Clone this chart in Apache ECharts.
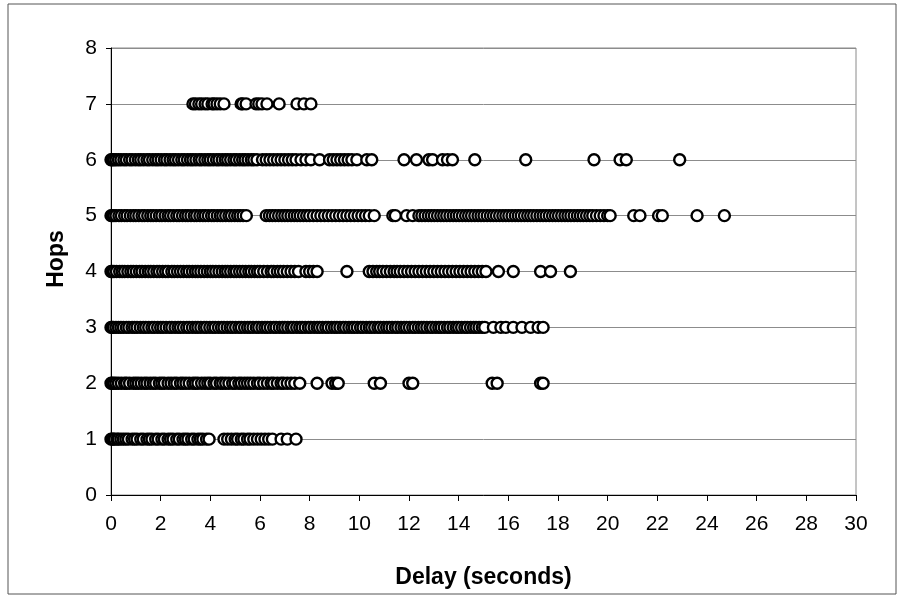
<!DOCTYPE html>
<html>
<head>
<meta charset="utf-8">
<script src="https://cdn.jsdelivr.net/npm/echarts@6/dist/echarts.min.js"></script>
<style>html,body{margin:0;padding:0;background:#fff;}#c{width:903px;height:597px;}</style>
</head>
<body>
<div id="c"></div>
<script>
var xTicks = [0,2,4,6,8,10,12,14,16,18,20,22,24,26,28,30];
var yTicks = [0,1,2,3,4,5,6,7,8];

var hops1 = [0,0.05,0.1,0.15,0.25,0.3,0.4,0.5,0.6,0.7,0.85,0.95,1.05,1.2,1.3,1.45,1.55,1.65,1.8,1.9,2.05,2.15,2.3,2.4,2.5,2.65,2.75,2.9,3.0,3.1,3.25,3.35,3.5,3.6,3.7,3.85,3.95,
  4.55,4.7,4.85,5.0,5.1,5.25,5.35,5.5,5.6,5.75,5.9,6.05,6.2,6.35,6.5,6.85,7.1,7.45];

var hops2 = [0,0.05,0.12,0.2,0.3,0.42,0.55,0.63,0.75,0.9,1.0,1.1,1.22,1.35,1.45,1.58,1.7,1.8,1.95,2.05,2.15,2.3,2.42,2.55,2.65,2.8,2.9,3.02,3.15,3.3,3.4,3.5,3.65,3.78,3.9,4.0,4.15,4.25,4.4,4.5,4.62,4.75,4.9,5.0,5.15,5.25,5.38,5.5,5.62,5.75,5.9,6.0,6.15,6.3,6.45,6.55,6.7,6.85,6.95,7.1,7.25,7.4,7.6,
  8.3,8.9,9.05,9.15,10.6,10.85,12.0,12.15,15.35,15.55,17.3,17.4];

var hops3 = [0,0.05,0.1,0.2,0.3,0.4,0.5,0.62,0.72,0.85,0.95,1.05,1.18,1.3,1.4,1.52,1.65,1.75,1.88,2.0,2.1,2.22,2.35,2.45,2.58,2.7,2.8,2.92,3.05,3.15,3.28,3.4,3.5,3.62,3.75,3.85,3.98,4.1,4.2,4.33,4.45,4.55,4.68,4.8,4.9,5.02,5.15,5.25,5.38,5.5,5.6,5.72,5.85,5.95,6.08,6.2,6.3,6.42,6.55,6.65,6.78,6.9,7.0,7.12,7.25,7.35,7.48,7.6,7.7,7.82,7.95,8.05,8.18,8.3,8.4,8.52,8.65,8.75,8.88,9.0,9.1,9.22,9.35,9.45,9.58,9.7,9.8,9.92,10.05,10.15,10.28,10.4,10.5,10.62,10.75,10.85,10.98,11.1,11.2,11.32,11.45,11.55,11.68,11.8,11.9,12.02,12.15,12.25,12.38,12.5,12.6,12.72,12.85,12.95,13.08,13.2,13.3,13.42,13.55,13.65,13.78,13.9,14.0,14.12,14.25,14.35,14.48,14.6,14.7,14.82,14.95,15.05,
  15.4,15.7,15.9,16.2,16.55,16.9,17.2,17.4];

var hops4 = [0,0.05,0.12,0.22,0.35,0.45,0.55,0.68,0.8,0.9,1.02,1.15,1.25,1.38,1.5,1.6,1.72,1.85,1.95,2.08,2.2,2.3,2.45,2.55,2.68,2.8,2.92,3.05,3.15,3.28,3.4,3.5,3.62,3.75,3.88,4.0,4.1,4.22,4.35,4.48,4.6,4.7,4.82,4.95,5.05,5.18,5.3,5.42,5.55,5.65,5.78,5.9,6.0,6.15,6.3,6.45,6.55,6.7,6.82,6.95,7.1,7.25,7.4,7.55,
  7.85,8.0,8.15,8.3,9.5,
  10.4,10.55,10.7,10.82,10.95,11.1,11.25,11.4,11.52,11.65,11.8,11.95,12.1,12.25,12.4,12.55,12.7,12.85,13.0,13.15,13.3,13.45,13.6,13.75,13.9,14.05,14.2,14.35,14.5,14.65,14.8,14.95,15.1,
  15.6,16.2,17.3,17.7,18.5];

var hops5 = [0,0.05,0.12,0.2,0.32,0.42,0.55,0.65,0.78,0.9,1.0,1.12,1.25,1.35,1.48,1.6,1.7,1.82,1.95,2.05,2.18,2.3,2.4,2.52,2.65,2.75,2.88,3.0,3.1,3.22,3.35,3.45,3.58,3.7,3.8,3.92,4.05,4.15,4.28,4.4,4.5,4.62,4.75,4.85,4.98,5.1,5.2,5.32,5.45,
  6.25,6.38,6.5,6.62,6.75,6.88,7.0,7.12,7.25,7.38,7.5,7.62,7.75,7.88,8.0,8.15,8.3,8.45,8.6,8.75,8.9,9.05,9.2,9.35,9.5,9.65,9.8,9.95,10.1,10.25,10.4,10.6,11.35,11.45,11.9,12.15,
  12.4,12.52,12.65,12.78,12.9,13.02,13.15,13.28,13.4,13.52,13.65,13.78,13.9,14.02,14.15,14.28,14.4,14.52,14.65,14.78,14.9,15.02,15.15,15.28,15.4,15.52,15.65,15.78,15.9,16.02,16.15,16.28,16.4,16.52,16.65,16.78,16.9,17.02,17.15,17.28,17.4,17.52,17.65,17.78,17.9,18.02,18.15,18.28,18.4,18.52,18.65,18.78,18.9,19.02,19.15,19.28,19.4,19.55,19.7,19.85,20.0,20.1,
  21.05,21.3,22.05,22.2,23.6,24.7];

var hops6 = [0,0.05,0.12,0.2,0.3,0.4,0.52,0.62,0.75,0.85,0.98,1.1,1.2,1.32,1.45,1.55,1.68,1.8,1.9,2.02,2.15,2.25,2.38,2.5,2.6,2.72,2.85,2.95,3.08,3.2,3.3,3.42,3.55,3.65,3.78,3.9,4.0,4.12,4.25,4.35,4.48,4.6,4.7,4.82,4.95,5.05,5.18,5.3,5.4,5.52,5.65,5.75,5.88,
  6.1,6.25,6.4,6.55,6.7,6.85,7.0,7.15,7.3,7.45,7.65,7.85,8.05,8.4,8.8,8.95,9.1,9.25,9.4,9.55,9.7,9.9,10.3,10.5,
  11.8,12.3,12.8,12.95,13.35,13.55,13.75,14.65,16.7,19.45,20.5,20.75,22.9];

var hops7 = [3.3,3.4,3.54,3.65,3.79,3.9,4.07,4.15,4.27,4.4,4.55,5.24,5.3,5.44,5.84,5.95,6.08,6.28,6.77,7.49,7.77,8.05];

function pts(arr, h){ return arr.map(function(v){ return [v, h]; }); }

var rows = [hops1, hops2, hops3, hops4, hops5, hops6, hops7];
var data = [];
rows.forEach(function(r, i){ data = data.concat(pts(r, i + 1)); });

var chart = echarts.init(document.getElementById('c'));
chart.setOption({
  animation: false,
  backgroundColor: '#fff',
  grid: { left: 111, right: 47, top: 48, bottom: 102, show: true, borderColor: '#8a8a8a', borderWidth: 1 },
  xAxis: {
    type: 'value', min: xTicks[0], max: xTicks[xTicks.length - 1], interval: 2,
    name: 'Delay (seconds)', nameLocation: 'middle', nameGap: 71,
    nameTextStyle: { fontFamily: 'Liberation Sans', fontWeight: 'bold', fontSize: 23, color: '#000' },
    axisLine: { show: true, lineStyle: { color: '#000', width: 1 } },
    axisTick: { show: true, length: 6, lineStyle: { color: '#000' } },
    axisLabel: { fontFamily: 'Liberation Sans', fontSize: 21, color: '#000', margin: 19 },
    splitLine: { show: false }
  },
  yAxis: {
    type: 'value', min: yTicks[0], max: yTicks[yTicks.length - 1], interval: 1,
    axisLine: { show: true, lineStyle: { color: '#000', width: 1 } },
    axisTick: { show: true, length: 5, lineStyle: { color: '#000' } },
    axisLabel: { fontFamily: 'Liberation Sans', fontSize: 21, color: '#000', margin: 14 },
    splitLine: { show: true, lineStyle: { color: '#8c8c8c', width: 1 } }
  },
  series: [{
    type: 'scatter',
    data: data,
    symbol: 'circle',
    symbolSize: 11,
    itemStyle: { color: '#fff', borderColor: '#000', borderWidth: 2.4, opacity: 1 }
  }],
  graphic: [{
    type: 'rect', silent: true, z: -1,
    shape: { x: 8, y: 4, width: 888, height: 590 },
    style: { fill: 'none', stroke: '#555', lineWidth: 1 }
  }, {
    type: 'text', silent: true,
    x: 57, y: 259, rotation: Math.PI / 2,
    style: { text: 'Hops', fill: '#000', font: 'bold 23px "Liberation Sans"', textAlign: 'center', textVerticalAlign: 'middle' }
  }]
});
</script>
</body>
</html>
